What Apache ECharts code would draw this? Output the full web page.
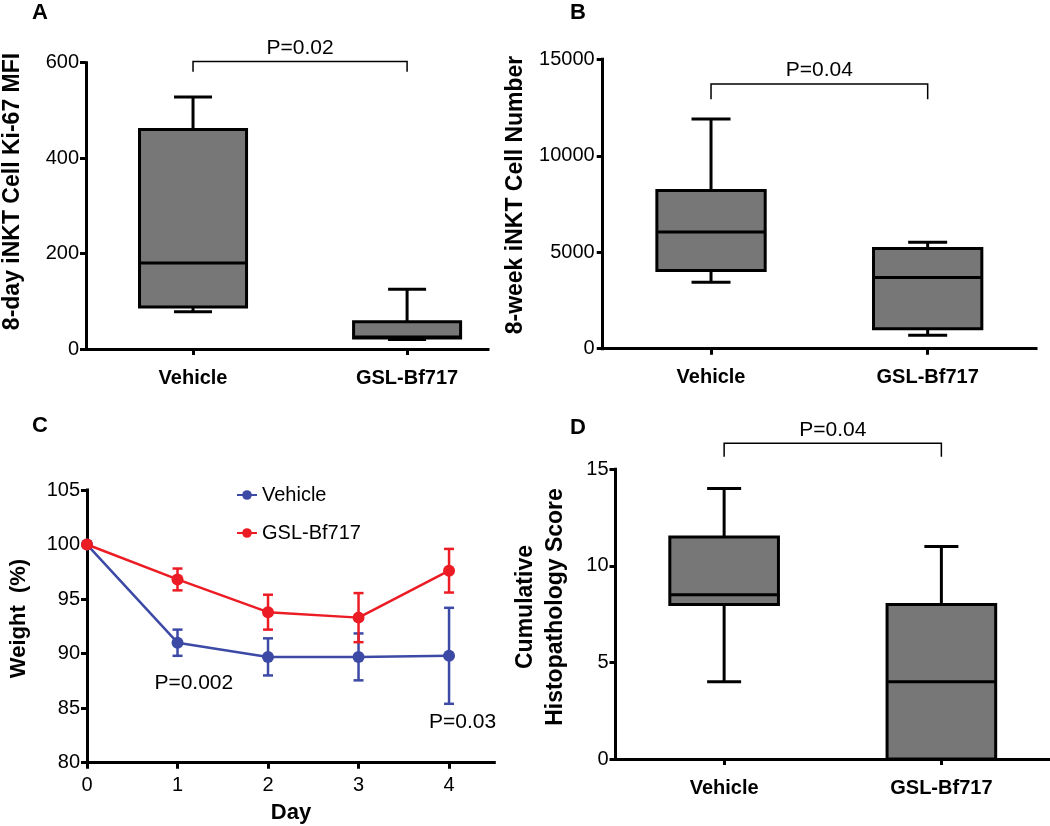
<!DOCTYPE html>
<html><head><meta charset="utf-8">
<script src="https://cdn.jsdelivr.net/npm/echarts@6/dist/echarts.min.js"></script>
<style>html,body{margin:0;padding:0;background:#fff}#c{width:1050px;height:826px}</style>
</head><body><div id="c"></div>
<script>
// ---------- data ----------
const groups = ['Vehicle', 'GSL-Bf717'];
// box statistics per group: [min, q1, median, q3, max]
const kiMFI = [[78, 88, 180, 460, 528], [20, 23, 25, 57, 125]];
const cellNumber = [[3450, 4050, 6050, 8200, 11900], [700, 1030, 3690, 5190, 5520]];
const histoScore = [[4, 8, 8.5, 11.5, 14], [0, 0, 4, 8, 11]];
const days = [0, 1, 2, 3, 4];
const weightVehicle = [100, 91.0, 89.7, 89.7, 89.8];
const errVehicle = [0, 1.2, 1.7, 2.15, 4.4];
const weightGSL = [100, 96.8, 93.8, 93.3, 97.6];
const errGSL = [0, 1.0, 1.6, 2.25, 2.0];
// significance brackets (value units): bracket level, leg end
const bracketA = {y: 602.7, leg: 581, text: 'P=0.02'};
const bracketB = {y: 13720, leg: 12926, text: 'P=0.04'};
const bracketD = {y: 16.35, leg: 15.65, text: 'P=0.04'};
const weightNotes = [{day: 1.18, w: 87.3, text: 'P=0.002'}, {day: 4.15, w: 83.7, text: 'P=0.03'}];

// ---------- styles ----------
const FF = '"Liberation Sans", Arial, Helvetica, sans-serif';
const BLUE = '#3c4aa6', RED = '#ec1c24';
const axisLine = {show: true, onZero: false, lineStyle: {color: '#000', width: 3, cap: 'square'}};
const tick = {show: true, inside: false, length: 6, lineStyle: {color: '#000', width: 3}};
const yLabel = m => ({fontFamily: FF, fontSize: 20, color: '#000', margin: m, formatter: v => String(v)});

function boxRender(capPx) {
  return function (params, api) {
    const x = api.value(0);
    const mn = api.value(1), q1 = api.value(2), md = api.value(3), q3 = api.value(4), mx = api.value(5);
    const w = api.size([0.5, 0])[0];
    const cx = api.coord([x, md])[0];
    const y = v => api.coord([x, v])[1];
    const half = w / 2, cap = capPx / 2;
    const ls = {stroke: '#000', lineWidth: 3, fill: null};
    return {type: 'group', children: [
      {type: 'line', shape: {x1: cx, y1: y(mx), x2: cx, y2: y(q3)}, style: ls},
      {type: 'line', shape: {x1: cx, y1: y(q1), x2: cx, y2: y(mn)}, style: ls},
      {type: 'line', shape: {x1: cx - cap, y1: y(mx), x2: cx + cap, y2: y(mx)}, style: ls},
      {type: 'line', shape: {x1: cx - cap, y1: y(mn), x2: cx + cap, y2: y(mn)}, style: ls},
      {type: 'rect', shape: {x: cx - half, y: y(q3), width: w, height: y(q1) - y(q3)}, style: {fill: '#777777', stroke: '#000', lineWidth: 3}},
      {type: 'line', shape: {x1: cx - half, y1: y(md), x2: cx + half, y2: y(md)}, style: ls}
    ]};
  };
}
function bracketRender(b) {
  return function (params, api) {
    const p1 = api.coord([0, b.y]), p2 = api.coord([1, b.y]);
    const l1 = api.coord([0, b.leg]), l2 = api.coord([1, b.leg]);
    return {type: 'group', children: [
      {type: 'polyline', shape: {points: [l1, p1, p2, l2]}, style: {stroke: '#000', lineWidth: 1.5, fill: null}},
      {type: 'text', x: (p1[0] + p2[0]) / 2, y: p1[1] - 3,
        style: {text: b.text, font: '21px ' + FF, fill: '#000', align: 'center', verticalAlign: 'bottom'}}
    ]};
  };
}
function errRender(color) {
  return function (params, api) {
    const x = api.value(0), lo = api.value(1), hi = api.value(2);
    if (hi - lo <= 0) return null;
    const a = api.coord([x, hi]), b = api.coord([x, lo]);
    const s = {stroke: color, lineWidth: 2.5};
    return {type: 'group', children: [
      {type: 'line', shape: {x1: a[0], y1: a[1], x2: b[0], y2: b[1]}, style: s},
      {type: 'line', shape: {x1: a[0] - 5, y1: a[1], x2: a[0] + 5, y2: a[1]}, style: s},
      {type: 'line', shape: {x1: b[0] - 5, y1: b[1], x2: b[0] + 5, y2: b[1]}, style: s}
    ]};
  };
}
function noteRender(params, api) {
  const p = api.coord([api.value(0), api.value(1)]);
  return {type: 'text', x: p[0], y: p[1],
    style: {text: weightNotes[params.dataIndex].text, font: '21px ' + FF, fill: '#000', align: 'center', verticalAlign: 'middle'}};
}
function catAxis(gi, max) {
  return {type: 'value', gridIndex: gi, min: -0.5, max: max,
    axisLine: axisLine, splitLine: {show: false},
    axisTick: Object.assign({}, tick, {customValues: [0, 1]}),
    axisLabel: {customValues: [0, 1], formatter: v => groups[Math.round(v)], fontFamily: FF, fontSize: 20, fontWeight: 'bold', color: '#000', margin: 19}};
}
function valAxis(gi, min, max, interval, margin) {
  return {type: 'value', gridIndex: gi, min: min, max: max, interval: interval,
    axisLine: axisLine, axisTick: tick, splitLine: {show: false}, axisLabel: yLabel(margin)};
}
const boxData = arr => groups.map((g, i) => [i].concat(arr[i]));
const errData = (m, e) => days.map((d, i) => [d, m[i] - e[i], m[i] + e[i]]);
const titleFont = s => 'bold ' + s + 'px ' + FF;

const option = {
  animation: false,
  backgroundColor: '#fff',
  grid: [
    {left: 86, top: 62.7, width: 402, height: 286.3},
    {left: 602.7, top: 59.3, width: 433.3, height: 289.4},
    {left: 87, top: 490, width: 407.3, height: 272.7},
    {left: 615.5, top: 469.3, width: 434.5, height: 289.7}
  ],
  xAxis: [
    catAxis(0, 1.378),
    catAxis(1, 1.5),
    {type: 'value', gridIndex: 2, min: 0, max: 4.5, axisLine: axisLine, splitLine: {show: false},
      axisTick: Object.assign({}, tick, {customValues: days}),
      axisLabel: {customValues: days, fontFamily: FF, fontSize: 20, color: '#000', margin: 13}},
    catAxis(3, 1.5)
  ],
  yAxis: [
    valAxis(0, 0, 600, 200, 7),
    valAxis(1, 0, 15000, 5000, 8),
    valAxis(2, 80, 105, 5, 7),
    valAxis(3, 0, 15, 5, 7)
  ],
  legend: {
    orient: 'vertical', left: 236, top: 485, padding: 0, itemWidth: 20, itemHeight: 12, itemGap: 18,
    textStyle: {fontFamily: FF, fontSize: 20, color: '#000'},
    data: ['Vehicle', 'GSL-Bf717']
  },
  series: [
    {type: 'custom', xAxisIndex: 0, yAxisIndex: 0, renderItem: boxRender(38), data: boxData(kiMFI), encode: {x: 0, y: [1, 2, 3, 4, 5]}},
    {type: 'custom', xAxisIndex: 0, yAxisIndex: 0, renderItem: bracketRender(bracketA), data: [[0, bracketA.y]], clip: false, silent: true},
    {type: 'custom', xAxisIndex: 1, yAxisIndex: 1, renderItem: boxRender(39), data: boxData(cellNumber), encode: {x: 0, y: [1, 2, 3, 4, 5]}},
    {type: 'custom', xAxisIndex: 1, yAxisIndex: 1, renderItem: bracketRender(bracketB), data: [[0, bracketB.y]], clip: false, silent: true},
    {type: 'custom', xAxisIndex: 3, yAxisIndex: 3, renderItem: boxRender(34), data: boxData(histoScore), encode: {x: 0, y: [1, 2, 3, 4, 5]}},
    {type: 'custom', xAxisIndex: 3, yAxisIndex: 3, renderItem: bracketRender(bracketD), data: [[0, bracketD.y]], clip: false, silent: true},
    {type: 'custom', name: 'errV', xAxisIndex: 2, yAxisIndex: 2, renderItem: errRender(BLUE), data: errData(weightVehicle, errVehicle), encode: {x: 0, y: [1, 2]}, z: 2},
    {type: 'custom', name: 'errG', xAxisIndex: 2, yAxisIndex: 2, renderItem: errRender(RED), data: errData(weightGSL, errGSL), encode: {x: 0, y: [1, 2]}, z: 2},
    {type: 'line', name: 'Vehicle', xAxisIndex: 2, yAxisIndex: 2, data: days.map((d, i) => [d, weightVehicle[i]]),
      symbol: 'circle', symbolSize: 12, lineStyle: {color: BLUE, width: 2.5}, itemStyle: {color: BLUE}, z: 3},
    {type: 'line', name: 'GSL-Bf717', xAxisIndex: 2, yAxisIndex: 2, data: days.map((d, i) => [d, weightGSL[i]]),
      symbol: 'circle', symbolSize: 12, lineStyle: {color: RED, width: 2.5}, itemStyle: {color: RED}, z: 4},
    {type: 'custom', xAxisIndex: 2, yAxisIndex: 2, renderItem: noteRender, data: weightNotes.map(n => [n.day, n.w]), clip: false, silent: true}
  ],
  graphic: [
    {type: 'text', x: 32, y: 12.5, style: {text: 'A', font: titleFont(22), fill: '#000', verticalAlign: 'middle'}},
    {type: 'text', x: 570, y: 13, style: {text: 'B', font: titleFont(22), fill: '#000', verticalAlign: 'middle'}},
    {type: 'text', x: 32, y: 426, style: {text: 'C', font: titleFont(22), fill: '#000', verticalAlign: 'middle'}},
    {type: 'text', x: 570, y: 427.5, style: {text: 'D', font: titleFont(22), fill: '#000', verticalAlign: 'middle'}},
    {type: 'text', x: 12.5, y: 191.5, rotation: Math.PI / 2, style: {text: '8-day iNKT Cell Ki-67 MFI', font: titleFont(23), fill: '#000', align: 'center', verticalAlign: 'middle'}},
    {type: 'text', x: 516, y: 195, rotation: Math.PI / 2, style: {text: '8-week iNKT Cell Number', font: titleFont(23), fill: '#000', align: 'center', verticalAlign: 'middle'}},
    {type: 'text', x: 19, y: 618.5, rotation: Math.PI / 2, style: {text: 'Weight  (%)', font: titleFont(22), fill: '#000', align: 'center', verticalAlign: 'middle'}},
    {type: 'text', x: 541, y: 607, rotation: Math.PI / 2, style: {text: 'Cumulative\nHistopathology Score', font: titleFont(23), lineHeight: 30, fill: '#000', align: 'center', verticalAlign: 'middle'}},
    {type: 'text', x: 291, y: 813, style: {text: 'Day', font: titleFont(22), fill: '#000', align: 'center', verticalAlign: 'middle'}}
  ]
};
const chart = echarts.init(document.getElementById('c'), null, {renderer: 'canvas'});
chart.setOption(option);
</script></body></html>
